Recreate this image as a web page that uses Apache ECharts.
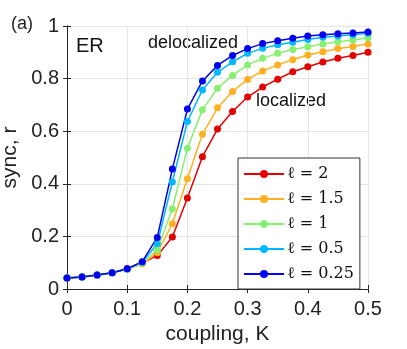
<!DOCTYPE html>
<html>
<head>
<meta charset="utf-8">
<script src="https://cdn.jsdelivr.net/npm/echarts@6/dist/echarts.min.js"></script>
<style>
  html, body { margin: 0; padding: 0; background: #fff; }
  #chart { width: 407px; height: 349px; }
</style>
</head>
<body>
<div id="chart"></div>
<script>
const couplingK = [0, 0.025, 0.05, 0.075, 0.1, 0.125, 0.15, 0.175, 0.2, 0.225, 0.25,
  0.275, 0.3, 0.325, 0.35, 0.375, 0.4, 0.425, 0.45, 0.475, 0.5];

const syncL2 = [0.042, 0.046, 0.053, 0.062, 0.077, 0.100, 0.127, 0.198, 0.346, 0.503, 0.608,
  0.675, 0.730, 0.768, 0.798, 0.826, 0.845, 0.863, 0.877, 0.888, 0.900];
const syncL15 = [0.042, 0.046, 0.053, 0.062, 0.075, 0.095, 0.138, 0.248, 0.419, 0.588, 0.689,
  0.751, 0.797, 0.829, 0.852, 0.872, 0.890, 0.902, 0.914, 0.922, 0.932];
const syncL1 = [0.042, 0.046, 0.053, 0.062, 0.075, 0.098, 0.149, 0.304, 0.535, 0.682, 0.763,
  0.812, 0.852, 0.877, 0.896, 0.911, 0.921, 0.932, 0.940, 0.947, 0.955];
const syncL05 = [0.042, 0.046, 0.053, 0.062, 0.076, 0.102, 0.172, 0.407, 0.637, 0.757, 0.824,
  0.864, 0.896, 0.915, 0.929, 0.938, 0.949, 0.957, 0.962, 0.967, 0.972];
const syncL025 = [0.042, 0.046, 0.053, 0.062, 0.077, 0.104, 0.196, 0.456, 0.684, 0.791, 0.850,
  0.888, 0.914, 0.933, 0.944, 0.953, 0.962, 0.967, 0.971, 0.973, 0.977];

const seriesNames = ['ℓ = 2', 'ℓ = 1.5', 'ℓ = 1', 'ℓ = 0.5', 'ℓ = 0.25'];
const seriesData = [syncL2, syncL15, syncL1, syncL05, syncL025];
const seriesColors = ['#e30000', '#ffb020', '#88f070', '#00b8ff', '#0000f0'];

const font = 'Liberation Sans, Arial, sans-serif';
const axisColor = '#262626';

const chart = echarts.init(document.getElementById('chart'), null, {renderer: 'canvas'});

const makeSeries = (name, values, color) => ({
  name: name,
  type: 'line',
  data: values.map((v, i) => [couplingK[i], v]),
  color: color,
  symbol: 'circle',
  symbolSize: 7,
  lineStyle: {width: 1.5},
  itemStyle: {color: color},
  animation: false
});

const option = {
  backgroundColor: '#fff',
  grid: {left: 67, right: 39, top: 26, bottom: 60, containLabel: false, outerBoundsMode: 'none'},
  legend: {
    orient: 'vertical',
    left: 238,
    top: 158,
    width: 121,
    padding: [8, 6, 7, 5],
    itemGap: 9,
    itemWidth: 40,
    itemHeight: 10,
    backgroundColor: '#fff',
    borderColor: '#333',
    borderWidth: 1,
    borderRadius: 0,
    data: seriesNames,
    textStyle: {
      fontFamily: 'DejaVu Serif, Liberation Serif, serif',
      fontSize: 16,
      lineHeight: 14,
      color: '#111',
      padding: [0, 0, 0, -2]
    }
  },
  xAxis: [
    {
      type: 'value',
      min: 0, max: 0.5, interval: 0.1,
      name: 'coupling, K',
      nameLocation: 'middle',
      nameGap: 35,
      nameTextStyle: {fontFamily: font, fontSize: 21, color: '#222'},
      axisLine: {show: true, lineStyle: {color: axisColor, width: 1}},
      axisTick: {show: true, inside: true, length: 4, lineStyle: {color: axisColor}},
      axisLabel: {
        margin: 10, fontFamily: font, fontSize: 20, color: '#222',
        formatter: v => String(+v.toFixed(1))
      },
      splitLine: {show: true, lineStyle: {color: '#e4e4e4', width: 1}}
    },
    {
      type: 'value', position: 'top',
      min: 0, max: 0.5, interval: 0.1,
      axisLine: {show: true, lineStyle: {color: axisColor, width: 1}},
      axisTick: {show: true, inside: true, length: 4, lineStyle: {color: axisColor}},
      axisLabel: {show: false},
      splitLine: {show: false}
    }
  ],
  yAxis: [
    {
      type: 'value',
      min: 0, max: 1, interval: 0.2,
      name: 'sync, r',
      nameLocation: 'middle',
      nameGap: 39,
      nameTextStyle: {fontFamily: font, fontSize: 21, color: '#222'},
      axisLine: {show: true, lineStyle: {color: axisColor, width: 1}},
      axisTick: {show: true, inside: true, length: 4, lineStyle: {color: axisColor}},
      axisLabel: {
        margin: 8, fontFamily: font, fontSize: 20, color: '#222',
        formatter: v => String(+v.toFixed(1))
      },
      splitLine: {show: true, lineStyle: {color: '#e4e4e4', width: 1}}
    },
    {
      type: 'value', position: 'right',
      min: 0, max: 1, interval: 0.2,
      axisLine: {show: true, lineStyle: {color: axisColor, width: 1}},
      axisTick: {show: true, inside: true, length: 4, lineStyle: {color: axisColor}},
      axisLabel: {show: false},
      splitLine: {show: false}
    }
  ],
  graphic: [
    {type: 'text', left: 11, top: 15, style: {text: '(a)', font: '18px ' + font, fill: '#222'}},
    {type: 'text', left: 76, top: 36, style: {text: 'ER', font: '20px ' + font, fill: '#111'}},
    {type: 'text', left: 148, top: 34, style: {text: 'delocalized', font: '18px ' + font, fill: '#111'}},
    {type: 'text', left: 256, top: 92, style: {text: 'localized', font: '18px ' + font, fill: '#111'}}
  ],
  series: seriesNames.map((n, i) => makeSeries(n, seriesData[i], seriesColors[i]))
};

chart.setOption(option);
</script>
</body>
</html>
